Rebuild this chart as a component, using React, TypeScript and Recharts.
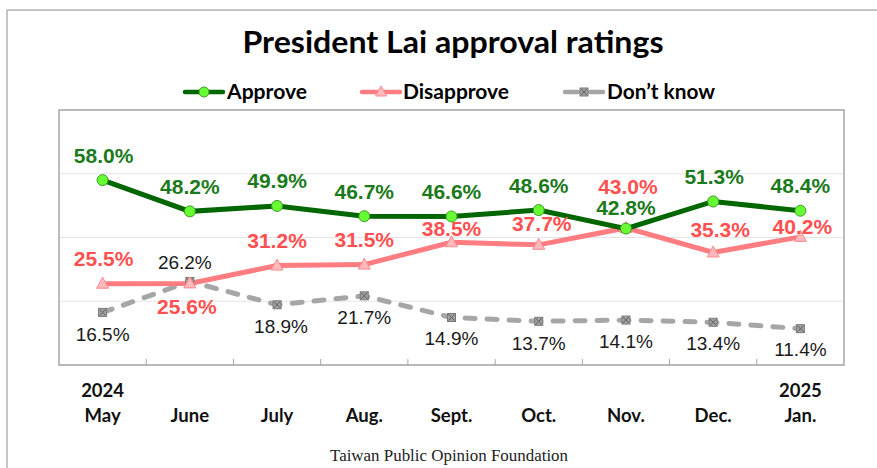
import React from 'react';
import { LineChart, Line, XAxis, YAxis, CartesianGrid, ReferenceArea, ReferenceLine, LabelList } from 'recharts';

// ---- data ----
const months = ['May', 'June', 'July', 'Aug.', 'Sept.', 'Oct.', 'Nov.', 'Dec.', 'Jan.'];
const years = ['2024', '', '', '', '', '', '', '', '2025'];
const approve = [58.0, 48.2, 49.9, 46.7, 46.6, 48.6, 42.8, 51.3, 48.4];
const disapprove = [25.5, 25.6, 31.2, 31.5, 38.5, 37.7, 43.0, 35.3, 40.2];
const dontKnow = [16.5, 26.2, 18.9, 21.7, 14.9, 13.7, 14.1, 13.4, 11.4];
const yTicks = [0, 20, 40, 60, 80];
const xTicks = [0, 1, 2, 3, 4, 5, 6, 7, 8];
const sepTicks = [0.5, 1.5, 2.5, 3.5, 4.5, 5.5, 6.5, 7.5];

// label placement (style only)
const approveDy = [-25, -25, -25, -25, -25, -25, -21, -25, -25];
const approveDx = [1, 0, 0, 0, 0, 0, 0, 1, 0];
const disapproveDy = [-25, 23, -25, -25, -14, -21, -41, -23, -10];
const disapproveDx = [1, -3, 0, 0, 0, 3, 2, 7, 2];
const dontKnowDy = [22, -19, 22, 22, 21, 22, 21, 21, 21];
const dontKnowDx = [0, -5, 4, 0, 0, 0, 0, 0, 0];

const data = months.map((m, i) => ({
  idx: i,
  month: m,
  year: years[i],
  approve: approve[i],
  disapprove: disapprove[i],
  dontKnow: dontKnow[i],
}));

const GREEN = '#006600';
const GREEN_TXT = '#1b7a1b';
const PINK = '#ff7c80';
const RED_TXT = '#ff5050';
const GRAY = '#a6a6a6';
const LABEL_FONT = '"Liberation Sans", Arial, sans-serif';
const CAL_FONT = 'Lato, "Open Sans", sans-serif';

const ApproveDot = (props: any) => {
  const { cx, cy } = props;
  if (cx == null || cy == null) return null;
  return <circle cx={cx} cy={cy} r={5.5} fill="#66ff33" stroke="#3c9a1e" strokeWidth={1} />;
};

const DisapproveDot = (props: any) => {
  const { cx, cy } = props;
  if (cx == null || cy == null) return null;
  return (
    <path
      d={`M${cx},${cy - 6.5} L${cx + 6},${cy + 4.5} L${cx - 6},${cy + 4.5} Z`}
      fill="#ffb8bb"
      stroke="#ff8a8e"
      strokeWidth={1}
    />
  );
};

const DontKnowDot = (props: any) => {
  const { cx, cy } = props;
  if (cx == null || cy == null) return null;
  return (
    <g>
      <rect x={cx - 4} y={cy - 4} width={8} height={8} fill="#a0a0a0" stroke="#7a7a7a" strokeWidth={1} />
      <path d={`M${cx - 3},${cy - 3} L${cx + 3},${cy + 3} M${cx + 3},${cy - 3} L${cx - 3},${cy + 3}`} stroke="#606060" strokeWidth={1} />
    </g>
  );
};

const SepShape = (props: any) => {
  const { x1, y1, x2, y2 } = props;
  if (x1 == null || y1 == null) return null;
  const bottom = Math.max(y1, y2);
  return <line x1={x1} y1={bottom} x2={x2} y2={bottom - 6} stroke="#a6a6a6" strokeWidth={1} />;
};

const makeLabel = (dys: number[], dxs: number[], color: string, weight: string, size: number) => (props: any) => {
  const { x, y, value, index } = props;
  if (x == null || y == null) return null;
  return (
    <text
      x={x + dxs[index]}
      y={y + dys[index]}
      fill={color}
      fontWeight={weight}
      fontSize={size}
      fontFamily={LABEL_FONT}
      textAnchor="middle"
      dominantBaseline="central"
    >
      {Number(value).toFixed(1)}%
    </text>
  );
};

const MonthTick = (props: any) => {
  const { x, y, payload } = props;
  const i = payload.value as number;
  return (
    <g>
      {years[i] ? (
        <text x={x} y={y + 32} textAnchor="middle" fontFamily={CAL_FONT} fontWeight="bold" fontSize={18.5} fill="#111">
          {years[i]}
        </text>
      ) : null}
      <text x={x} y={y + 57} textAnchor="middle" fontFamily={CAL_FONT} fontWeight="bold" fontSize={18.5} fill="#111">
        {months[i]}
      </text>
    </g>
  );
};

const Overlay = () => (
  <svg width={877} height={468} style={{ position: 'absolute', left: 0, top: 0, pointerEvents: 'none' }}>
    <line x1={7} y1={10} x2={877} y2={10} stroke="#b3b3b3" strokeWidth={1.5} />
    <line x1={7} y1={10} x2={7} y2={468} stroke="#b3b3b3" strokeWidth={1.5} />
    <text
      x={453}
      y={53}
      textAnchor="middle"
      fontFamily={CAL_FONT}
      fontWeight="bold"
      fontSize={30}
      fill="#000"
      textLength={421}
      lengthAdjust="spacingAndGlyphs"
    >
      President Lai approval ratings
    </text>
    {/* legend */}
    <line x1={185} y1={92} x2={223} y2={92} stroke={GREEN} strokeWidth={4.5} strokeLinecap="round" />
    <circle cx={204} cy={92} r={5} fill="#66ff33" stroke="#3c9a1e" strokeWidth={1} />
    <text x={227} y={99} fontFamily={CAL_FONT} fontWeight="bold" fontSize={20} fill="#000" textLength={80} lengthAdjust="spacingAndGlyphs">Approve</text>

    <line x1={362} y1={92} x2={400} y2={92} stroke={PINK} strokeWidth={4.5} strokeLinecap="round" />
    <path d="M381,86 L386.5,96 L375.5,96 Z" fill="#ffb8bb" stroke="#ff8a8e" strokeWidth={1} />
    <text x={403} y={99} fontFamily={CAL_FONT} fontWeight="bold" fontSize={20} fill="#000" textLength={106} lengthAdjust="spacingAndGlyphs">Disapprove</text>

    <line x1={565} y1={92} x2={578} y2={92} stroke={GRAY} strokeWidth={4.5} strokeLinecap="round" />
    <line x1={590} y1={92} x2={603} y2={92} stroke={GRAY} strokeWidth={4.5} strokeLinecap="round" />
    <rect x={580} y={88} width={8} height={8} fill="#a0a0a0" stroke="#7a7a7a" strokeWidth={1} />
    <path d="M581,89 L587,95 M587,89 L581,95" stroke="#606060" strokeWidth={1} />
    <text x={607} y={99} fontFamily={CAL_FONT} fontWeight="bold" fontSize={20} fill="#000" textLength={108} lengthAdjust="spacingAndGlyphs">Don’t know</text>

    <text x={449} y={461} textAnchor="middle" fontFamily='"Liberation Serif", "Times New Roman", serif' fontSize={16.5} fill="#222" textLength={238} lengthAdjust="spacingAndGlyphs">
      Taiwan Public Opinion Foundation
    </text>
  </svg>
);

export default function App() {
  return (
    <div style={{ position: 'fixed', left: 0, top: 0, width: 877, height: 468, background: '#fff', overflow: 'hidden' }}>
      <LineChart width={877} height={468} data={data} margin={{ top: 110, right: 33, bottom: 43, left: 59 }}>
        <CartesianGrid vertical={false} stroke="#e4e4e4" strokeWidth={1} />
        <XAxis
          dataKey="idx"
          type="number"
          domain={[-0.5, 8.5]}
          ticks={xTicks}
          interval={0}
          height={60}
          tickLine={false}
          axisLine={false}
          tickSize={0}
          tickMargin={0}
          tick={<MonthTick />}
        />
        <YAxis hide domain={[0, 80]} ticks={yTicks} type="number" />
        {sepTicks.map((v) => (
          <ReferenceLine key={v} x={v} shape={<SepShape />} ifOverflow="visible" />
        ))}
        <ReferenceArea x1={-0.5} x2={8.5} y1={0} y2={80} fill="none" stroke="#a6a6a6" strokeWidth={1.5} ifOverflow="visible" />
        <Line
          dataKey="dontKnow"
          stroke={GRAY}
          strokeWidth={5}
          strokeDasharray="10 12"
          strokeLinecap="round"
          dot={<DontKnowDot />}
          activeDot={false}
          isAnimationActive={false}
        >
          <LabelList dataKey="dontKnow" content={makeLabel(dontKnowDy, dontKnowDx, '#1a1a1a', 'normal', 19)} />
        </Line>
        <Line
          dataKey="disapprove"
          stroke={PINK}
          strokeWidth={5}
          dot={<DisapproveDot />}
          activeDot={false}
          isAnimationActive={false}
        >
          <LabelList dataKey="disapprove" content={makeLabel(disapproveDy, disapproveDx, RED_TXT, 'bold', 21)} />
        </Line>
        <Line
          dataKey="approve"
          stroke={GREEN}
          strokeWidth={5}
          dot={<ApproveDot />}
          activeDot={false}
          isAnimationActive={false}
        >
          <LabelList dataKey="approve" content={makeLabel(approveDy, approveDx, GREEN_TXT, 'bold', 21)} />
        </Line>
      </LineChart>
      <Overlay />
    </div>
  );
}
